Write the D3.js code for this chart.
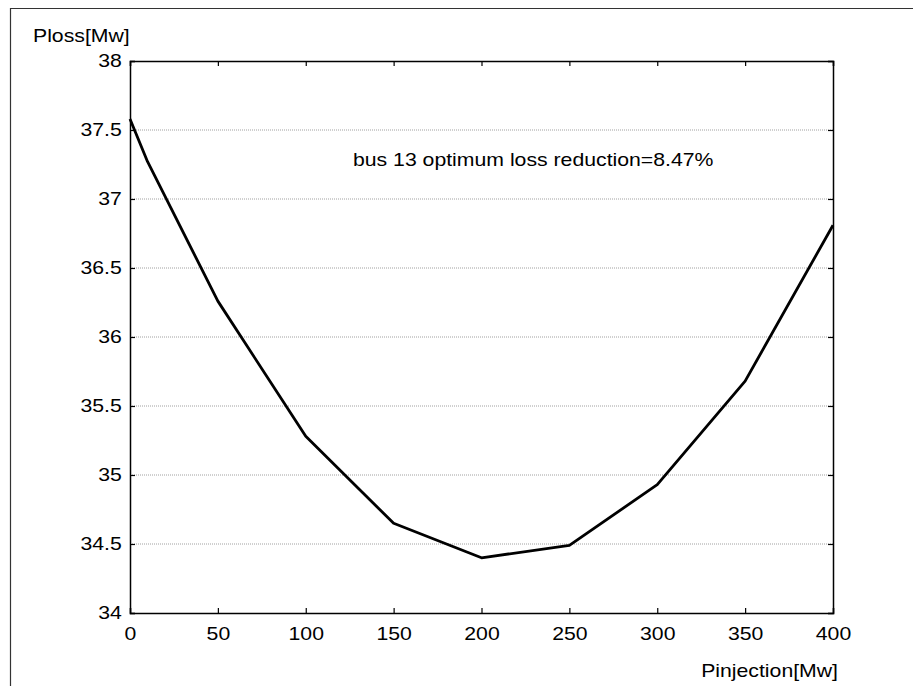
<!DOCTYPE html>
<html>
<head>
<meta charset="utf-8">
<script src="https://cdn.jsdelivr.net/npm/d3@7"></script>
<style>
    body { margin: 0; background: #fff; }
    text { font-family: "Liberation Sans", Arial, sans-serif; fill: #000; }
</style>
</head>
<body>
<div id="chart"></div>
<script>
"use strict";

// Data
let injection = [0, 10, 50, 100, 150, 200, 250, 300, 350, 400];
let loss = [37.58, 37.27, 36.26, 35.28, 34.65, 34.40, 34.49, 34.93, 35.68, 36.81];
let xTicks = [0, 50, 100, 150, 200, 250, 300, 350, 400];
let yTicks = [34, 34.5, 35, 35.5, 36, 36.5, 37, 37.5, 38];
let note = "bus 13 optimum loss reduction=8.47%";

// the figure's text is a bit wider than the font, so stretch it
let stretch = 1.18;

function label(svg, x, y, txt, anchor) {
    svg.append("text").attr("x", 0).attr("y", 0)
        .attr("transform", `translate(${x},${y}) scale(${stretch},1)`)
        .style("font-size", "18px").style("text-anchor", anchor).text(txt);
}

function draw() {
    let width = 913;
    let height = 686;
    let left = 130, right = 833, top = 61, bottom = 613;
    let tick = 5;

    let svg = d3.select("#chart").append("svg")
        .attr("width", width).attr("height", height);

    // Frame of the figure (only left and top edges are visible)
    svg.append("line").attr("x1", 10.5).attr("x2", 10.5).attr("y1", 8).attr("y2", height)
        .attr("stroke", "#333").attr("stroke-width", 1.2);
    svg.append("line").attr("x1", 10).attr("x2", width).attr("y1", 8.5).attr("y2", 8.5)
        .attr("stroke", "#333").attr("stroke-width", 1.2);

    let xScale = d3.scaleLinear().domain([0, 400]).range([left, right]);
    let yScale = d3.scaleLinear().domain([34, 38]).range([bottom, top]);

    // Horizontal grid
    svg.append("g").selectAll("line").data(yTicks.slice(1, -1)).enter()
        .append("line")
        .attr("x1", left).attr("x2", right)
        .attr("y1", d => yScale(d)).attr("y2", d => yScale(d))
        .attr("stroke", "#a0a0a0").attr("stroke-width", 1)
        .attr("stroke-dasharray", "1,1");

    // Axes with inward ticks on all four sides
    let fmt = d3.format("");
    let axB = svg.append("g").attr("transform", `translate(0,${bottom})`)
        .call(d3.axisBottom(xScale).tickValues(xTicks).tickSize(-tick).tickPadding(14).tickFormat(fmt));
    let axT = svg.append("g").attr("transform", `translate(0,${top})`)
        .call(d3.axisTop(xScale).tickValues(xTicks).tickSize(-tick).tickFormat(""));
    let axL = svg.append("g").attr("transform", `translate(${left},0)`)
        .call(d3.axisLeft(yScale).tickValues(yTicks).tickSize(-tick).tickPadding(7).tickFormat(fmt));
    let axR = svg.append("g").attr("transform", `translate(${right},0)`)
        .call(d3.axisRight(yScale).tickValues(yTicks).tickSize(-tick).tickFormat(""));

    [axB, axT, axL, axR].forEach(function (ax) {
        ax.select(".domain").attr("stroke", "#000").attr("stroke-width", 1.5);
        ax.selectAll(".tick line").attr("stroke", "#000").attr("stroke-width", 1.2);
        ax.selectAll("text").style("font-size", "18px")
            .style("font-family", "'Liberation Sans', Arial, sans-serif").attr("fill", "#000")
            .attr("transform", `scale(${stretch},1)`);
    });
    axB.selectAll("text").attr("dy", "0.71em");

    // Curve
    let line = d3.line()
        .x(function (d, i) { return xScale(injection[i]); })
        .y(function (d) { return yScale(d); });
    svg.append("path").datum(loss)
        .attr("d", line).attr("fill", "none")
        .attr("stroke", "#000").attr("stroke-width", 2.8)
        .attr("stroke-linejoin", "round");

    // Labels
    label(svg, 33, 42, "Ploss[Mw]", "start");
    label(svg, 838, 677, "Pinjection[Mw]", "end");
    label(svg, 353, 166, note, "start");
}

window.onload = draw;
</script>
</body>
</html>
